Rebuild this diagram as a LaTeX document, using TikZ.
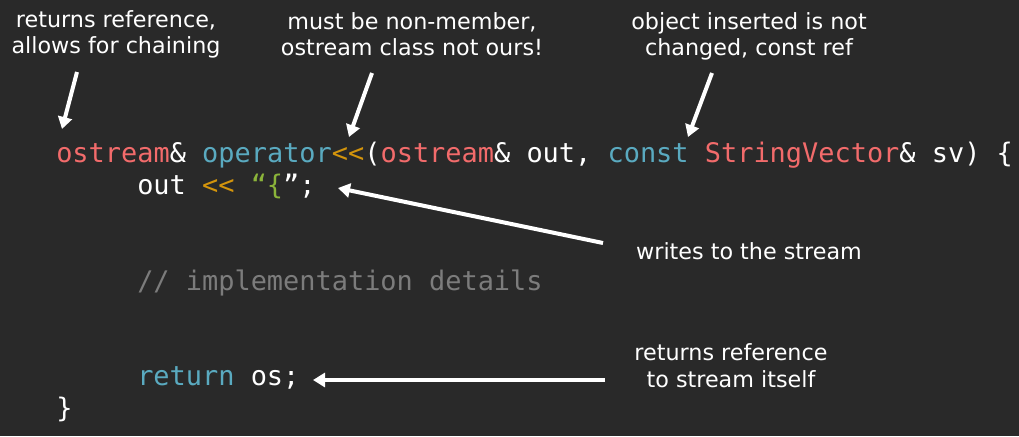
\documentclass[tikz,border=0pt]{standalone}
\usepackage{fontspec}
\setmainfont{DejaVu Sans}
\newfontfamily\codefont{DejaVu Sans Mono}
\usetikzlibrary{arrows.meta}
\definecolor{bg}{HTML}{292929}
\definecolor{cred}{HTML}{F26B6B}
\definecolor{cteal}{HTML}{5AAAC0}
\definecolor{corange}{HTML}{D3940C}
\definecolor{cgreen}{HTML}{8BB43A}
\definecolor{cgrey}{HTML}{7C7C7C}
\begin{document}
\begin{tikzpicture}[x=0.75pt,y=-0.75pt,
  code/.style={font=\codefont\fontsize{20.2}{24}\selectfont, text=white, inner sep=0pt, anchor=base west},
  note/.style={font=\fontsize{16.7}{19.5}\selectfont, text=white, align=center, inner sep=0pt, anchor=base},
  arr/.style={draw=white, line width=3pt, -{Triangle[width=10.5pt,length=9pt]}}]
\fill[bg] (0,0) rectangle (1019,436);
\useasboundingbox (0,0) rectangle (1019,436);
% code
\node[code] (l1) at (56,162) {{\color{cred}ostream}\& {\color{cteal}operator}{\color{corange}<{}<}({\color{cred}ostream}\& out, {\color{cteal}const} {\color{cred}StringVector}\& sv) \{};
\node[code] (l2) at (137,194) {out {\color{corange}<{}<} {\color{cgreen}“\{}”;};
\node[code] (l3) at (137,290) {{\color{cgrey}// implementation details}};
\node[code] (l4) at (137,385) {{\color{cteal}return} os;};
\node[code] (l5) at (56,417) {\}};
% notes (base anchor = last line)
\node[note] (n1) at (116,53) {returns reference,\\allows for chaining};
\node[note] (n2) at (412,55) {must be non-member,\\ostream class not ours!};
\node[note] (n3) at (749,55) {object inserted is not\\changed, const ref};
\node[note] (n4) at (749,259) {writes to the stream};
\node[note, font=\fontsize{16.7}{20.25}\selectfont] (n5) at (731,387) {returns reference\\to stream itself};
% arrow ends
\coordinate (t1) at (77,72);  \coordinate (h1) at (62,129);
\coordinate (t2) at (372,73); \coordinate (h2) at (349,137);
\coordinate (t3) at (712,73); \coordinate (h3) at (688,137);
\coordinate (t4) at (603,243); \coordinate (h4) at (338,188);
\coordinate (t5) at (605,380); \coordinate (h5) at (313,380);
\draw[arr] (t1) -- (h1);
\draw[arr] (t2) -- (h2);
\draw[arr] (t3) -- (h3);
\draw[arr] (t4) -- (h4);
\draw[arr] (t5) -- (h5);
\end{tikzpicture}
\end{document}
